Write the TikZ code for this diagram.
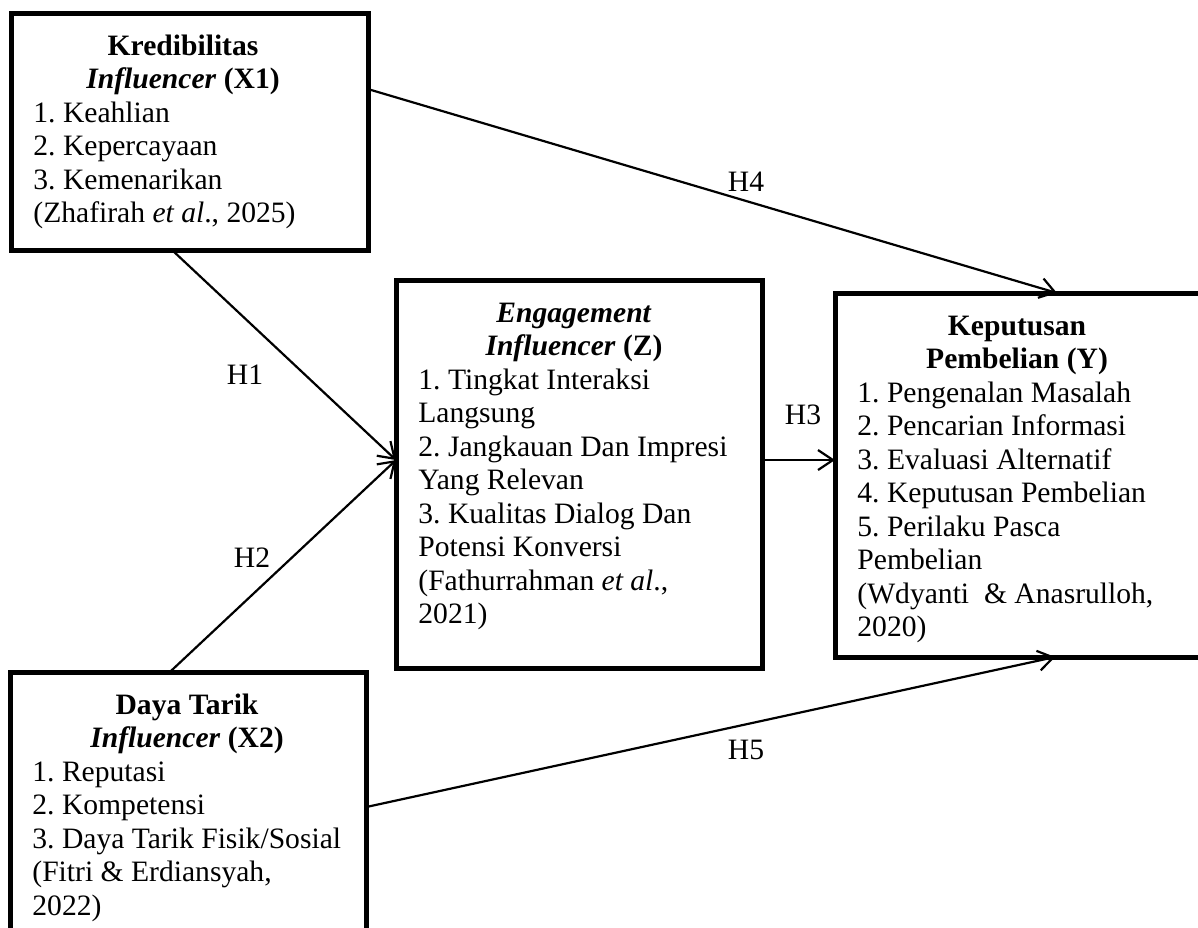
\documentclass[tikz,border=0pt]{standalone}
\usepackage{fontspec}
\setmainfont{Liberation Serif}
\usetikzlibrary{arrows.meta,calc}
\frenchspacing
\begin{document}
\begin{tikzpicture}[x=0.5pt,y=-0.5pt,
  box/.style={draw=black, line width=2.5pt, rectangle, inner sep=0pt, outer sep=0pt, anchor=north west},
  txt/.style={inner sep=0pt, font=\fontsize{14.8pt}{16.75pt}\selectfont},
  head/.style={inner sep=0pt, anchor=base, font=\fontsize{14.8pt}{16.75pt}\selectfont\bfseries},
  body/.style={txt, anchor=base west},
  hyp/.style={txt, anchor=center},
  link/.style={line width=1.1pt, -{Straight Barb[length=7.5pt,width=10pt]}}
]
\useasboundingbox (0,0) rectangle (1198,927);
\clip (0,0) rectangle (1198,927);

% variable boxes
\node[box, minimum width=178.5pt, minimum height=118.5pt] (X1) at (11,13) {};
\node[box, minimum width=183pt, minimum height=194pt] (Z) at (396,280) {};
\node[box, minimum width=185pt, minimum height=182pt] (Y) at (835,293) {};
\node[box, minimum width=178pt, minimum height=144pt] (X2) at (10,672) {};

% X1: Kredibilitas Influencer
\node[head] (X1h1) at (183,55) {Kredibilitas};
\node[head] (X1h2) at (183,88) {\textit{Influencer} (X1)};
\node[body] (X1b) at (33,122) {\begin{tabular}[t]{@{}l@{}}
1. Keahlian\\
2. Kepercayaan\\
3. Kemenarikan\\
(Zhafirah \textit{et al}., 2025)
\end{tabular}};

% Z: Engagement Influencer
\node[head] (Zh1) at (574,322) {\textit{Engagement}};
\node[head] (Zh2) at (574,355) {\textit{Influencer} (Z)};
\node[body] (Zb) at (418,389) {\begin{tabular}[t]{@{}l@{}}
1. Tingkat Interaksi\\
Langsung\\
2. Jangkauan Dan Impresi\\
Yang Relevan\\
3. Kualitas Dialog Dan\\
Potensi Konversi\\
(Fathurrahman \textit{et al}.,\\
2021)
\end{tabular}};

% Y: Keputusan Pembelian
\node[head] (Yh1) at (1017,335) {Keputusan};
\node[head] (Yh2) at (1017,368) {Pembelian (Y)};
\node[body] (Yb) at (857,402) {\begin{tabular}[t]{@{}l@{}}
1. Pengenalan Masalah\\
2. Pencarian Informasi\\
3. Evaluasi Alternatif\\
4. Keputusan Pembelian\\
5. Perilaku Pasca\\
Pembelian\\
(Wdyanti~\ \& Anasrulloh,\\
2020)
\end{tabular}};

% X2: Daya Tarik Influencer
\node[head] (X2h1) at (187,714) {Daya Tarik};
\node[head] (X2h2) at (187,747) {\textit{Influencer} (X2)};
\node[body] (X2b) at (32,781) {\begin{tabular}[t]{@{}l@{}}
1. Reputasi\\
2. Kompetensi\\
3. Daya Tarik Fisik/Sosial\\
(Fitri \& Erdiansyah,\\
2022)
\end{tabular}};

% hypothesis labels
\node[hyp] (H1) at (245,375) {H1};
\node[hyp] (H2) at (252,558) {H2};
\node[hyp] (H3) at (803,415) {H3};
\node[hyp] (H4) at (746,182) {H4};
\node[hyp] (H5) at (746,750) {H5};

% paths
\coordinate (zin) at ($(Z.north west)!0.464!(Z.south west)$);
\draw[link] ($(X1.south west)!0.451!(X1.south east)$) -- (zin);
\draw[link] ($(X2.north west)!0.449!(X2.north east)$) -- (zin);
\draw[link] (zin -| Z.east) -- (zin -| Y.west);
\draw[link] ($(X1.north east)!0.321!(X1.south east)$) -- ($(Y.north west)!0.6!(Y.north east)$);
\draw[link] ($(X2.north east)!0.469!(X2.south east)$) -- ($(Y.south west)!0.595!(Y.south east)$);
\end{tikzpicture}
\end{document}
